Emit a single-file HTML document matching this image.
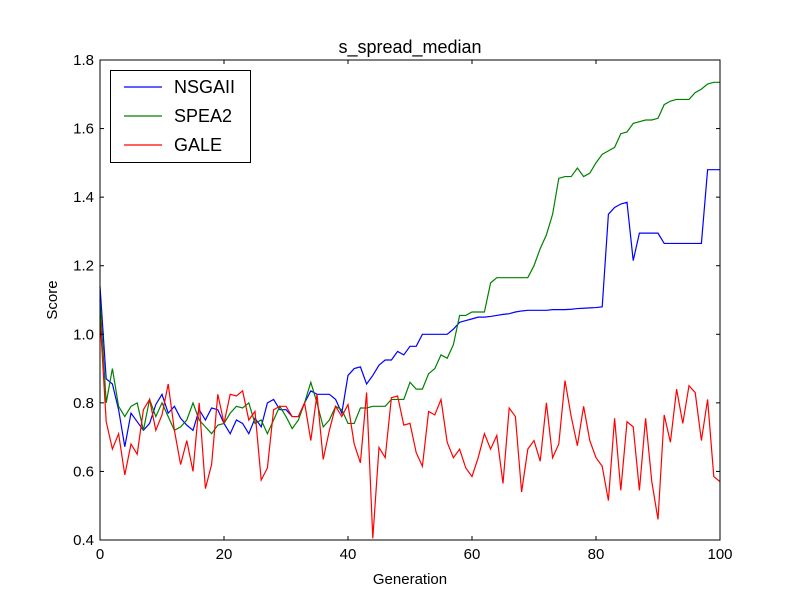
<!DOCTYPE html>
<html><head><meta charset="utf-8"><style>body{margin:0;background:#fff}svg{display:block;font-family:"Liberation Sans",sans-serif}</style></head>
<body>
<svg id="chart" width="800" height="600" xmlns="http://www.w3.org/2000/svg">
<rect width="800" height="600" fill="#fff"/>
<g id="plot"></g>
</svg>
<script>
const xTicks=[0,20,40,60,80,100];
const yTicks=[0.4,0.6,0.8,1.0,1.2,1.4,1.6,1.8];
const yTickLabels=["0.4","0.6","0.8","1.0","1.2","1.4","1.6","1.8"];
const nsgaii=[1.14,0.87,0.855,0.78,0.672,0.77,0.745,0.72,0.74,0.795,0.825,0.77,0.79,0.755,0.735,0.72,0.78,0.75,0.785,0.78,0.74,0.71,0.75,0.74,0.71,0.755,0.73,0.80,0.81,0.78,0.78,0.76,0.76,0.80,0.835,0.825,0.825,0.825,0.81,0.77,0.88,0.90,0.905,0.855,0.88,0.91,0.925,0.925,0.95,0.94,0.965,0.965,1.0,1.0,1.0,1.0,1.0,1.015,1.035,1.04,1.045,1.05,1.05,1.052,1.055,1.058,1.06,1.065,1.068,1.07,1.07,1.07,1.07,1.072,1.072,1.072,1.073,1.075,1.076,1.077,1.078,1.08,1.35,1.37,1.38,1.385,1.215,1.295,1.295,1.295,1.295,1.265,1.265,1.265,1.265,1.265,1.265,1.265,1.48,1.48,1.48];
const spea2=[1.1,0.80,0.90,0.79,0.76,0.79,0.80,0.72,0.81,0.76,0.80,0.76,0.72,0.73,0.75,0.80,0.75,0.73,0.71,0.735,0.74,0.77,0.79,0.785,0.80,0.74,0.75,0.71,0.75,0.79,0.76,0.725,0.75,0.80,0.86,0.80,0.73,0.75,0.79,0.78,0.74,0.74,0.785,0.785,0.79,0.79,0.79,0.81,0.81,0.81,0.86,0.84,0.84,0.885,0.90,0.94,0.93,0.97,1.055,1.055,1.065,1.065,1.065,1.15,1.165,1.165,1.165,1.165,1.165,1.165,1.20,1.25,1.29,1.35,1.455,1.46,1.46,1.485,1.46,1.47,1.50,1.525,1.535,1.545,1.585,1.59,1.615,1.62,1.625,1.625,1.63,1.67,1.68,1.685,1.685,1.685,1.705,1.715,1.73,1.735,1.735];
const gale=[1.05,0.745,0.665,0.71,0.59,0.68,0.65,0.78,0.81,0.72,0.765,0.855,0.72,0.62,0.69,0.60,0.80,0.55,0.62,0.825,0.74,0.825,0.82,0.835,0.75,0.775,0.575,0.61,0.78,0.79,0.79,0.76,0.76,0.80,0.69,0.825,0.635,0.72,0.79,0.76,0.795,0.68,0.625,0.83,0.405,0.67,0.64,0.815,0.82,0.735,0.74,0.655,0.615,0.775,0.765,0.81,0.685,0.64,0.665,0.61,0.585,0.64,0.71,0.665,0.705,0.565,0.785,0.76,0.54,0.665,0.69,0.63,0.80,0.64,0.68,0.865,0.76,0.675,0.79,0.69,0.64,0.615,0.515,0.755,0.545,0.745,0.73,0.545,0.755,0.57,0.46,0.765,0.685,0.84,0.74,0.85,0.83,0.69,0.81,0.585,0.57];
const L=100,R=720,T=60,B=540;
const sx=v=>L+(v-0)/(100-0)*(R-L);
const sy=v=>B-(v-0.4)/(1.8-0.4)*(B-T);
const g=document.getElementById('plot');
const NS='http://www.w3.org/2000/svg';
function mk(t,a){const e=document.createElementNS(NS,t);for(const k in a)e.setAttribute(k,a[k]);g.appendChild(e);return e;}
function series(arr,color,name){
  const d=arr.map((v,i)=>(i?'L':'M')+sx(i).toFixed(2)+','+sy(v).toFixed(2)).join('');
  const p=mk('path',{d:d,fill:'none',stroke:color,'stroke-width':1.2});
  
  
}
series(nsgaii,'#0000ff','nsgaii-line');
series(spea2,'#008000','spea2-line');
series(gale,'#ff0000','gale-line');
const frame=mk('rect',{x:L,y:T,width:R-L,height:B-T,fill:'none',stroke:'#000','stroke-width':1});


xTicks.forEach(v=>{
  const x=sx(v);
  mk('line',{x1:x,y1:B,x2:x,y2:B-4,stroke:'#000'});
  mk('line',{x1:x,y1:T,x2:x,y2:T+4,stroke:'#000'});
  const t=mk('text',{x:x,y:B+19,'text-anchor':'middle','font-size':15});
  t.textContent=v;
  
  
});
yTicks.forEach((v,i)=>{
  const y=sy(v);
  mk('line',{x1:L,y1:y,x2:L+4,y2:y,stroke:'#000'});
  mk('line',{x1:R,y1:y,x2:R-4,y2:y,stroke:'#000'});
  const t=mk('text',{x:L-6,y:y+5,'text-anchor':'end','font-size':15});
  t.textContent=yTickLabels[i];
  
  
});
</script>
<svg style="position:absolute;left:0;top:0" width="800" height="600" xmlns="http://www.w3.org/2000/svg">
<text x="410" y="53" text-anchor="middle" font-size="18">s_spread_median</text>
<text x="410" y="584" text-anchor="middle" font-size="15">Generation</text>
<text x="57" y="300" text-anchor="middle" font-size="15" transform="rotate(-90 57 300)">Score</text>
<g>
<rect x="110.5" y="70.5" width="140" height="92" fill="#fff" stroke="#000"/>
<line x1="124" y1="87" x2="162" y2="87" stroke="#0000ff" stroke-width="1.2"/>
<text x="174" y="93" font-size="18">NSGAII</text>
<line x1="124" y1="116" x2="162" y2="116" stroke="#008000" stroke-width="1.2"/>
<text x="174" y="122" font-size="18">SPEA2</text>
<line x1="124" y1="145" x2="162" y2="145" stroke="#ff0000" stroke-width="1.2"/>
<text x="174" y="151" font-size="18">GALE</text>
</g>
</svg>
</body></html>
